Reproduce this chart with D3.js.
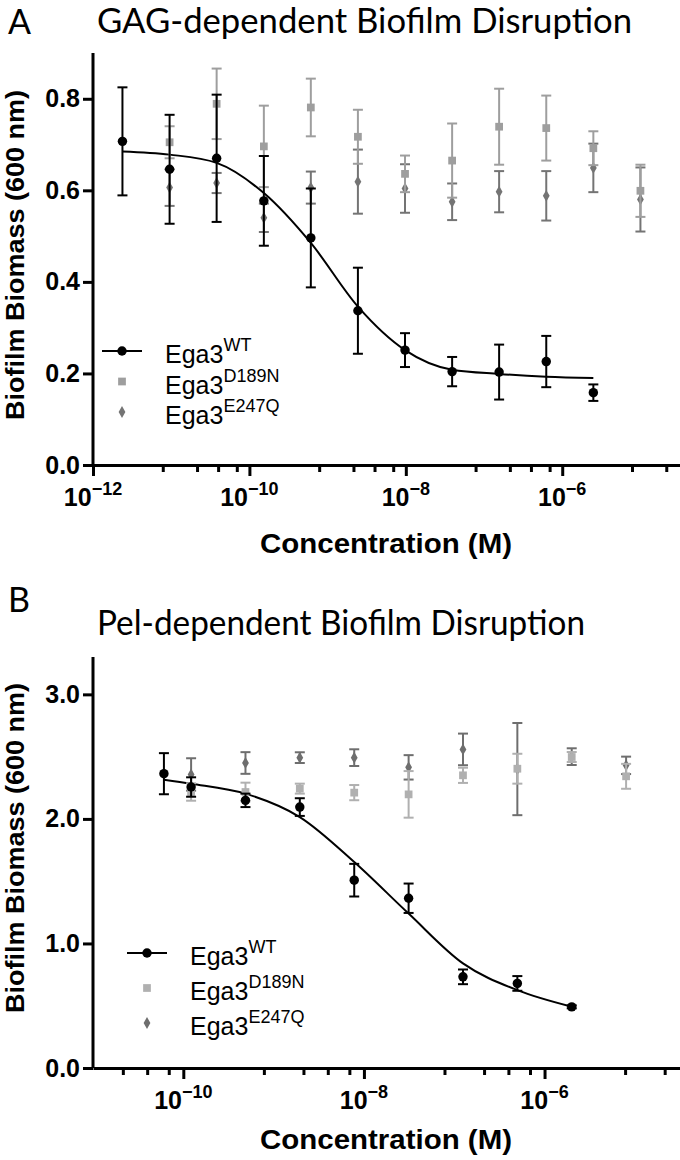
<!DOCTYPE html>
<html lang="en">
<head>
<meta charset="UTF-8">
<title>Ega3 Biofilm Disruption</title>
<script src="https://d3js.org/d3.v7.min.js"></script>
<style>
    body { margin: 0; background: #ffffff; }
    svg { display: block; }
    .bold { font-family: "Liberation Sans", Arial, sans-serif; font-weight: bold; fill: #000; }
    .legend { font-family: "Liberation Sans", Arial, sans-serif; fill: #000; }
    .title { font-family: Lato, "Open Sans", sans-serif; fill: #000; }
</style>
</head>
<body>
<svg id="chart" width="680" height="1160"></svg>
<script>
// ---------- Panel A : GAG-dependent ----------
const gagConc = [2.38e-12, 9.54e-12, 3.81e-11, 1.53e-10, 6.10e-10, 2.44e-9, 9.77e-9, 3.91e-8, 1.56e-7, 6.25e-7, 2.5e-6, 1e-5];
const gagWT        = [0.707, 0.646, 0.670, 0.577, 0.496, 0.337, 0.251, 0.204, 0.203, 0.226, 0.158, null];
const gagWTErr     = [0.118, 0.119, 0.139, 0.098, 0.108, 0.094, 0.037, 0.032, 0.060, 0.056, 0.018, null];
const gagD189N     = [null, 0.705, 0.789, 0.696, 0.781, 0.717, 0.636, 0.665, 0.739, 0.736, 0.692, 0.599];
const gagD189NErr  = [null, 0.035, 0.077, 0.089, 0.063, 0.059, 0.040, 0.081, 0.083, 0.071, 0.037, 0.057];
const gagE247Q     = [null, 0.606, 0.616, 0.540, 0.606, 0.619, 0.604, 0.575, 0.597, 0.588, 0.649, 0.580];
const gagE247QErr  = [null, 0.040, 0.022, 0.031, 0.035, 0.070, 0.053, 0.040, 0.045, 0.054, 0.053, 0.070];
const gagFit       = [0.685, 0.678, 0.660, 0.594, 0.485, 0.346, 0.251, 0.208, 0.199, 0.193, 0.190, null];

// ---------- Panel B : Pel-dependent ----------
const pelConc = [6.1e-11, 1.22e-10, 4.88e-10, 1.95e-9, 7.81e-9, 3.125e-8, 1.25e-7, 5e-7, 2e-6, 8e-6];
const pelWT        = [2.363, 2.256, 2.149, 2.095, 1.508, 1.363, 0.732, 0.679, 0.491, null];
const pelWTErr     = [0.165, 0.078, 0.054, 0.071, 0.131, 0.118, 0.059, 0.059, 0.012, null];
const pelD189N     = [null, 2.216, 2.216, 2.243, 2.211, 2.197, 2.350, 2.403, 2.497, 2.342];
const pelD189NErr  = [null, 0.070, 0.075, 0.040, 0.061, 0.187, 0.061, 0.120, 0.040, 0.100];
const pelE247Q     = [null, 2.357, 2.449, 2.492, 2.492, 2.414, 2.558, 2.400, 2.500, 2.430];
const pelE247QErr  = [null, 0.130, 0.087, 0.043, 0.067, 0.098, 0.127, 0.370, 0.067, 0.070];
const pelFit       = [2.315, 2.283, 2.203, 2.015, 1.654, 1.240, 0.840, 0.625, 0.492, null];

// axis ticks
const majorExp = [-12, -10, -8, -6];
const minorFactors = [7.8, 21.4, 39.8, 69];
const gagYTicks = [0, 0.2, 0.4, 0.6, 0.8];
const pelYTicks = [0, 1, 2, 3];

const svg = d3.select("#chart");

function drawPanel(p) {
    const g = svg.append("g");
    const x = d3.scaleLog().domain(p.xDomain).range([93, 680]);
    const y = d3.scaleLinear().domain(p.yDomain).range([p.y0, p.yTop]);

    // panel letter and title
    g.append("text").attr("class", "title")
        .attr("x", 8).attr("y", p.letterY)
        .attr("font-size", 34)
        .text(p.letter);
    g.append("text").attr("class", "title")
        .attr("x", 97).attr("y", p.titleY)
        .attr("font-size", 34)
        .attr("textLength", p.titleLen).attr("lengthAdjust", "spacingAndGlyphs")
        .text(p.title);

    // fit curve
    const fitPts = p.conc.map((c, i) => [c, p.fit[i]]).filter(d => d[1] != null);
    g.append("path")
        .attr("d", d3.line().x(d => x(d[0])).y(d => y(d[1])).curve(d3.curveMonotoneX)(fitPts))
        .attr("fill", "none").attr("stroke", "#000").attr("stroke-width", 2);

    // series: error bars then markers
    p.series.forEach(s => {
        const pts = p.conc.map((c, i) => ({c: c, v: s.values[i], e: s.err[i]})).filter(d => d.v != null);
        const sg = g.append("g");
        pts.forEach(d => {
            const cx = x(d.c);
            const top = y(d.v + d.e), bot = y(d.v - d.e);
            sg.append("line").attr("x1", cx).attr("x2", cx).attr("y1", top).attr("y2", bot)
                .attr("stroke", s.color).attr("stroke-width", 2);
            [top, bot].forEach(yy => sg.append("line")
                .attr("x1", cx - 5).attr("x2", cx + 5).attr("y1", yy).attr("y2", yy)
                .attr("stroke", s.color).attr("stroke-width", 2));
        });
        sg.selectAll("path.m").data(pts).enter().append("path")
            .attr("transform", d => `translate(${x(d.c)},${y(d.v)})`)
            .attr("d", d3.symbol().type(s.symbol).size(s.size))
            .attr("fill", s.color);
    });

    // axes
    const yAxis = g.append("g").attr("transform", "translate(93,0)")
        .call(d3.axisLeft(y).tickValues(p.yTicks).tickFormat(d3.format(".1f")).tickSize(10).tickPadding(3));
    yAxis.select(".domain").attr("d", `M0,${p.yTop}V${p.y0}`);

    const xMajors = majorExp.map(e => Math.pow(10, e)).filter(v => v >= p.xDomain[0] && v <= p.xDomain[1]);
    const xMinors = [];
    majorExp.forEach(e => minorFactors.forEach(f => {
        const v = f * Math.pow(10, e);
        if (v > p.xDomain[0] && v < p.xDomain[1]) xMinors.push(v);
    }));
    g.append("g").attr("transform", `translate(0,${p.y0})`)
        .call(d3.axisBottom(x).tickValues(xMajors).tickFormat("").tickSize(11).tickSizeOuter(0));
    g.append("g").attr("transform", `translate(0,${p.y0})`)
        .call(d3.axisBottom(x).tickValues(xMinors).tickFormat("").tickSize(7).tickSizeOuter(0))
        .select(".domain").remove();
    g.selectAll(".domain").attr("stroke-width", 3).attr("stroke", "#000");
    g.selectAll(".tick line").attr("stroke-width", 3).attr("stroke", "#000");
    yAxis.selectAll(".tick text").attr("class", "bold").attr("font-size", 25);

    // x tick labels with exponents
    xMajors.forEach(v => {
        const t = g.append("text").attr("class", "bold")
            .attr("x", x(v)).attr("y", p.y0 + 41)
            .attr("text-anchor", "middle").attr("font-size", 25);
        t.append("tspan").text("10");
        t.append("tspan").attr("font-size", 18).attr("dy", -11).text("\u2212" + (-Math.log10(v)).toFixed(0));
    });

    // axis titles
    g.append("text").attr("class", "bold")
        .attr("x", 386).attr("y", p.y0 + p.xLabelDy)
        .attr("text-anchor", "middle").attr("font-size", 28)
        .attr("textLength", 252).attr("lengthAdjust", "spacingAndGlyphs")
        .text("Concentration (M)");
    g.append("text").attr("class", "bold")
        .attr("transform", `translate(24,${p.yLabelC}) rotate(-90)`)
        .attr("text-anchor", "middle").attr("font-size", 25)
        .attr("textLength", 330).attr("lengthAdjust", "spacingAndGlyphs")
        .text("Biofilm Biomass (600 nm)");

    // legend
    p.series.slice().reverse().forEach((s, k) => {
        const ly = p.legendY + k * p.legendStep;
        const lx = p.legendX;
        if (s.name === "WT") {
            g.append("line").attr("x1", lx - 20).attr("x2", lx + 20).attr("y1", ly).attr("y2", ly)
                .attr("stroke", "#000").attr("stroke-width", 2);
        }
        g.append("path").attr("transform", `translate(${lx},${ly})`)
            .attr("d", d3.symbol().type(s.symbol).size(s.size)).attr("fill", s.color);
        const t = g.append("text").attr("class", "legend")
            .attr("x", lx + 43).attr("y", ly + 12).attr("font-size", 25);
        t.append("tspan").text("Ega3");
        t.append("tspan").attr("font-size", 18).attr("dy", -12).text(s.name);
    });
}

drawPanel({
    letter: "A", letterY: 34, title: "GAG-dependent Biofilm Disruption", titleY: 33, titleLen: 535,
    xDomain: [1e-12, Math.pow(10, -4.494)], yDomain: [0, 0.9], y0: 465, yTop: 53,
    yTicks: gagYTicks, yLabelC: 255, xLabelDy: 88, conc: gagConc, fit: gagFit,
    legendX: 122, legendY: 351, legendStep: 30.5,
    series: [
        {name: "E247Q", values: gagE247Q, err: gagE247QErr, color: "#747474", symbol: d3.symbolDiamond, size: 40},
        {name: "D189N", values: gagD189N, err: gagD189NErr, color: "#9e9e9e", symbol: d3.symbolSquare, size: 60},
        {name: "WT", values: gagWT, err: gagWTErr, color: "#000000", symbol: d3.symbolCircle, size: 70}
    ]
});

drawPanel({
    letter: "B", letterY: 612, title: "Pel-dependent Biofilm Disruption", titleY: 635, titleLen: 488,
    xDomain: [1e-11, Math.pow(10, -4.5)], yDomain: [0, 3.3], y0: 1068, yTop: 657,
    yTicks: pelYTicks, yLabelC: 848, xLabelDy: 81, conc: pelConc, fit: pelFit,
    legendX: 147, legendY: 953, legendStep: 35,
    series: [
        {name: "E247Q", values: pelE247Q, err: pelE247QErr, color: "#6e6e6e", symbol: d3.symbolDiamond, size: 40},
        {name: "D189N", values: pelD189N, err: pelD189NErr, color: "#b0b0b0", symbol: d3.symbolSquare, size: 60},
        {name: "WT", values: pelWT, err: pelWTErr, color: "#000000", symbol: d3.symbolCircle, size: 70}
    ]
});
</script>
</body>
</html>
